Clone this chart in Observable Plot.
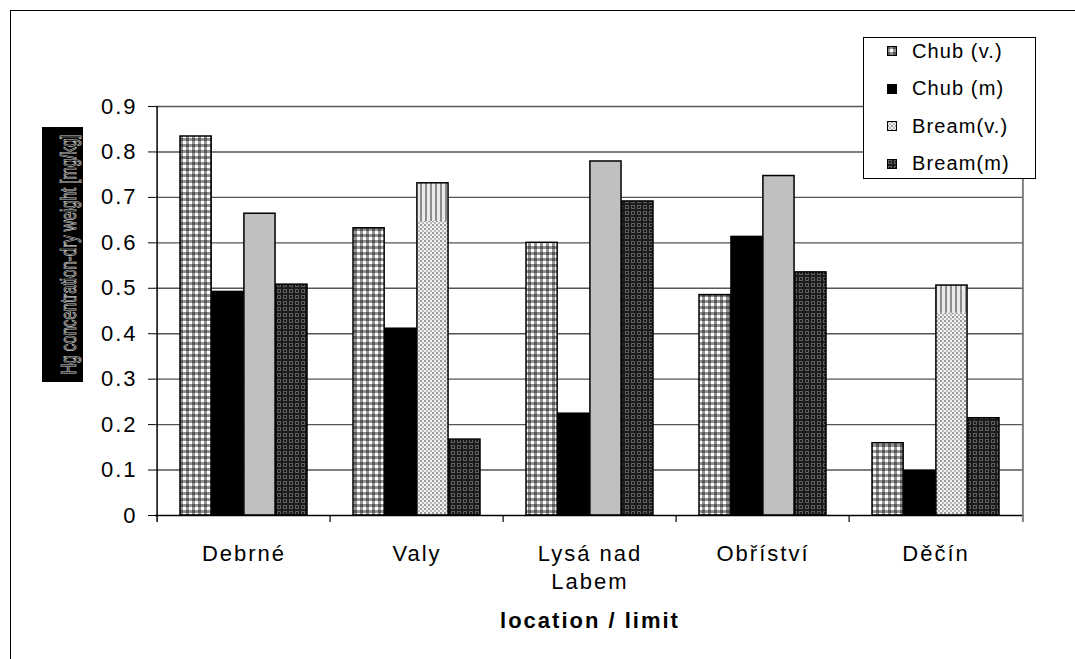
<!DOCTYPE html>
<html>
<head>
<meta charset="utf-8">
<script src="https://cdn.jsdelivr.net/npm/d3@7"></script>
<script src="https://cdn.jsdelivr.net/npm/@observablehq/plot@0.6"></script>
<style>
  html, body { margin: 0; padding: 0; background: #fff; overflow: hidden; }
  #wrap { position: relative; width: 1075px; height: 659px; overflow: hidden; font-family: "Liberation Sans", Arial, sans-serif; }
  #frame { position: absolute; left: 10px; top: 10px; width: 1200px; height: 800px; border: 1.5px solid #000; }
  #chart { position: absolute; left: 0; top: 0; }
  #ylab { position: absolute; left: 32px; top: 117px; overflow: visible; }
  #legend { position: absolute; left: 863px; top: 37px; width: 171px; height: 140px; border: 1.5px solid #000; background: #fff; }
  .lrow { position: absolute; left: 0; height: 24px; display: flex; align-items: center; }
  .lrow svg { margin-left: 23px; }
  .lrow span { margin-left: 15px; font-size: 20px; letter-spacing: 1.1px; color: #000; white-space: nowrap; }
</style>
</head>
<body>
<div id="wrap">
  <div id="frame"></div>
  <div id="chart"></div>
  <svg id="ylab" width="61" height="275"></svg>
  <div id="legend"></div>
</div>
<script>
// ---- data ----
const locations = ["Debrné", "Valy", "Lysá nad Labem", "Obříství", "Děčín"];
const xTickLabels = ["Debrné", "Valy", "Lysá nad\nLabem", "Obříství", "Děčín"];
const series = ["Chub (v.)", "Chub (m)", "Bream(v.)", "Bream(m)"];
const chubV  = [0.834, 0.632, 0.600, 0.485, 0.159];
const chubM  = [0.492, 0.411, 0.224, 0.613, 0.098];
const breamV = [0.664, 0.731, 0.779, 0.747, 0.506];
const breamM = [0.508, 0.167, 0.691, 0.535, 0.214];
// Bream(v.) bars that show a striped upper part (start of stripes)
const stripeLocs = ["Valy", "Děčín"];
const stripeFrom = [0.647, 0.445];
const yTicks = [0, 0.1, 0.2, 0.3, 0.4, 0.5, 0.6, 0.7, 0.8, 0.9];
const xTitle = "location / limit";
const yTitle = "Hg concentration-dry weight [mg/kg]";

// ---- layout ----
const W = 1075, H = 659, mL = 155, mR = 51, mT = 106, mB = 144;
const bw = (W - mL - mR) / locations.length;
const groupPad = 23;
const barW = (bw - 2 * groupPad) / series.length;
const insL = j => groupPad + barW * j;
const insR = j => bw - groupPad - barW * (j + 1);

const rows = locations.map((loc, i) => ({loc, chubV: chubV[i], chubM: chubM[i], breamV: breamV[i], breamM: breamM[i]}));
const stripeMap = new Map(stripeLocs.map((l, i) => [l, stripeFrom[i]]));
const stripeRows = rows.filter(d => stripeMap.has(d.loc));

const chart = Plot.plot({
  width: W, height: H,
  marginLeft: mL, marginRight: mR, marginTop: mT, marginBottom: mB,
  style: {fontFamily: "'Liberation Sans', Arial, sans-serif", fontSize: "22px", letterSpacing: "2px", background: "transparent", color: "#000"},
  x: {domain: locations, padding: 0},
  y: {domain: [0, 0.9]},
  color: {type: "identity"},
  marks: [
    Plot.gridY({ticks: yTicks.filter(t => t > 0), stroke: "#555", strokeOpacity: 1, strokeWidth: 1.4}),
    // Chub (v.)
    Plot.barY(rows, {x: "loc", y: "chubV", fill: "url(#pPlaid)", stroke: "#000", strokeWidth: 1.5, insetLeft: insL(0), insetRight: insR(0)}),
    // Chub (m)
    Plot.barY(rows, {x: "loc", y: "chubM", fill: "#000", stroke: "#000", strokeWidth: 1.5, insetLeft: insL(1), insetRight: insR(1)}),
    // Bream (v.)
    Plot.barY(rows, {x: "loc", y1: 0, y2: d => stripeMap.has(d.loc) ? stripeMap.get(d.loc) : d.breamV,
      fill: d => stripeMap.has(d.loc) ? "url(#pChecker)" : "#c0c0c0", insetLeft: insL(2), insetRight: insR(2)}),
    Plot.barY(stripeRows, {x: "loc", y1: d => stripeMap.get(d.loc), y2: "breamV", fill: "url(#pStripes)", insetLeft: insL(2), insetRight: insR(2)}),
    Plot.barY(rows, {x: "loc", y: "breamV", fill: "none", stroke: "#000", strokeWidth: 1.5, insetLeft: insL(2), insetRight: insR(2)}),
    // Bream (m)
    Plot.barY(rows, {x: "loc", y: "breamM", fill: "url(#pDark)", stroke: "#000", strokeWidth: 1.5, insetLeft: insL(3), insetRight: insR(3)}),
    // axes
    Plot.ruleY([0], {stroke: "#000", strokeWidth: 1.5}),
    Plot.ruleX([locations[0]], {x: d => d, dx: -bw / 2, y1: 0.9, y2: 0, insetBottom: -7, stroke: "#000", strokeWidth: 1.5}),
    Plot.ruleX(locations.slice(1), {x: d => d, dx: -bw / 2, y1: 0, y2: 0, insetBottom: -7, stroke: "#000", strokeWidth: 1.2}),
    Plot.ruleX([locations[locations.length - 1]], {x: d => d, dx: bw / 2, y1: 0.9, y2: 0, insetBottom: -7, stroke: "#808080", strokeWidth: 2}),
    Plot.axisY({ticks: yTicks, tickSize: 7, tickPadding: 11, label: null, tickFormat: d => d === 0 ? "0" : d.toFixed(1), fontSize: 22}),
    Plot.axisX({tickSize: 0, tickPadding: 25, label: null, lineHeight: 1.3, fontSize: 22,
      tickFormat: d => xTickLabels[locations.indexOf(d)]}),
    Plot.text([xTitle], {frameAnchor: "bottom", dy: 112, text: d => d, fontWeight: "bold", fontSize: 22, letterSpacing: "2.5px"})
  ]
});

// pattern definitions
const defs = `
<defs>
  <pattern id="pPlaid" width="6" height="6" patternUnits="userSpaceOnUse">
    <rect width="6" height="6" fill="#fff"/>
    <rect x="0" y="0" width="3" height="6" fill="#000" fill-opacity="0.42"/>
    <rect x="0" y="0" width="6" height="3" fill="#000" fill-opacity="0.42"/>
  </pattern>
  <pattern id="pChecker" width="4" height="4" patternUnits="userSpaceOnUse">
    <rect width="4" height="4" fill="#f2f2f2"/>
    <rect x="0" y="0" width="2" height="2" fill="#9a9a9a"/>
    <rect x="2" y="2" width="2" height="2" fill="#b8b8b8"/>
  </pattern>
  <pattern id="pStripes" width="5" height="5" patternUnits="userSpaceOnUse">
    <rect width="5" height="5" fill="#eaeaea"/>
    <rect x="0" y="0" width="2" height="5" fill="#8c8c8c"/>
  </pattern>
  <pattern id="pDark" width="6" height="6" patternUnits="userSpaceOnUse">
    <rect width="6" height="6" fill="#1c1c1c"/>
    <rect x="1.5" y="1.5" width="3" height="3" fill="none" stroke="#5e5e5e" stroke-width="1"/>
  </pattern>
</defs>`;
chart.insertAdjacentHTML("afterbegin", defs);
document.getElementById("chart").appendChild(chart);

// y-axis title box
const ylab = d3.select("#ylab");
ylab.append("rect").attr("x", 10).attr("y", 10).attr("width", 41).attr("height", 255).attr("fill", "#000");
ylab.append("text")
  .attr("transform", "translate(44,137.5) rotate(-90)")
  .attr("text-anchor", "middle")
  .attr("font-family", "'Liberation Sans', Arial, sans-serif")
  .attr("font-size", 22)
  .attr("textLength", 240)
  .attr("lengthAdjust", "spacingAndGlyphs")
  .attr("fill", "#000")
  .attr("stroke", "#c8c8c8")
  .attr("stroke-width", 0.8)
  .text(yTitle);

// legend
const legendFills = ["url(#pPlaid)", "#000", "url(#pChecker)", "url(#pDark)"];
const legend = d3.select("#legend");
series.forEach((s, i) => {
  const row = legend.append("div").attr("class", "lrow").style("top", (1 + i * 37.5) + "px");
  const sw = row.append("svg").attr("width", 10).attr("height", 10);
  sw.append("rect").attr("x", 0.5).attr("y", 0.5).attr("width", 9).attr("height", 9)
    .attr("fill", legendFills[i]).attr("stroke", "#000").attr("stroke-width", 1);
  row.append("span").text(s);
});
</script>
</body>
</html>
